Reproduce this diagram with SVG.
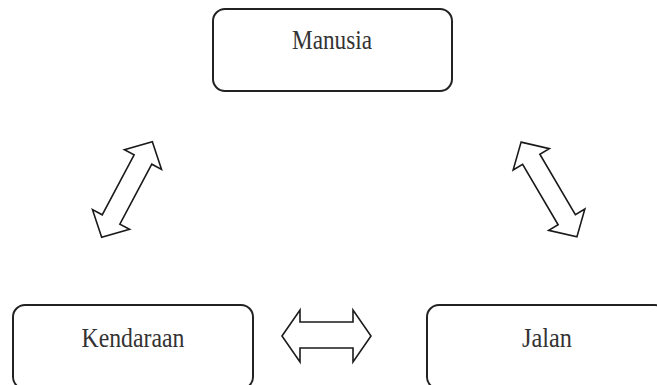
<svg xmlns="http://www.w3.org/2000/svg" width="657" height="385" viewBox="0 0 657 385">
<style>
.box{fill:#fff;stroke:#222;stroke-width:2}
.lbl{font-family:"Liberation Serif","Times New Roman",serif;font-size:28px;fill:#333;text-anchor:middle}
.arr{fill:#fff;stroke:#1a1a1a;stroke-width:1.6;stroke-linejoin:miter}
</style>
<rect width="657" height="385" fill="#fff"/>
<g id="manusia">
<rect class="box" x="213" y="9" width="239" height="82" rx="12"/>
<text class="lbl" x="332" y="49" textLength="80" lengthAdjust="spacingAndGlyphs">Manusia</text>
</g>
<g id="kendaraan">
<rect class="box" x="13" y="305" width="240" height="84" rx="12"/>
<text class="lbl" x="133" y="347" textLength="103" lengthAdjust="spacingAndGlyphs">Kendaraan</text>
</g>
<g id="jalan">
<rect class="box" x="427" y="305" width="240" height="84" rx="12"/>
<text class="lbl" x="547" y="347" textLength="50" lengthAdjust="spacingAndGlyphs">Jalan</text>
</g>
<g id="connectors">
<polygon class="arr" points="282,336 300,310 300,322 353,322 353,310 371,336 353,362 353,348 300,348 300,362"/>
<polygon class="arr" transform="translate(127,189.5) rotate(-62)" points="-54,0 -34,-21 -34,-10 34,-10 34,-21 54,0 34,21 34,10 -34,10 -34,21"/>
<polygon class="arr" transform="translate(549,189.5) rotate(59.5)" points="-55,0 -35,-21 -35,-10 35,-10 35,-21 55,0 35,21 35,10 -35,10 -35,21"/>
</g>
</svg>
